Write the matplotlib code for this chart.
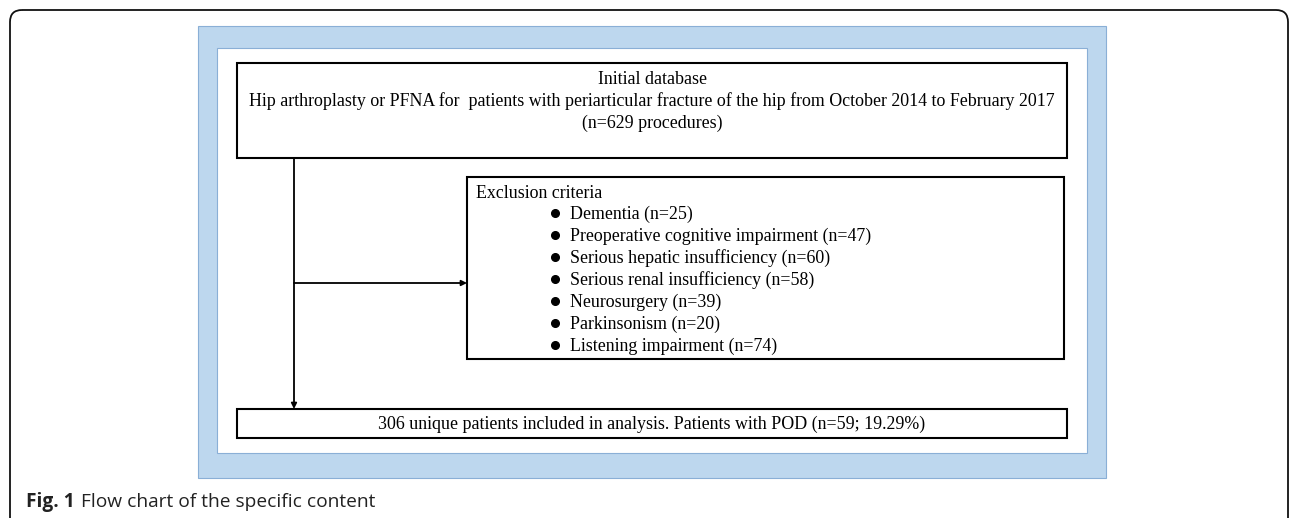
import matplotlib.pyplot as plt
from matplotlib.patches import Rectangle, FancyBboxPatch

# contenuto del diagramma
initial_title = "Initial database"
initial_desc = "Hip arthroplasty or PFNA for  patients with periarticular fracture of the hip from October 2014 to February 2017"
n_procedures = 629
criteria = ["Dementia", "Preoperative cognitive impairment", "Serious hepatic insufficiency",
            "Serious renal insufficiency", "Neurosurgery", "Parkinsonism", "Listening impairment"]
counts = [25, 47, 60, 58, 39, 20, 74]
n_patients = 306
n_pod = 59
pct_pod = 19.29

W, H = 1290, 518
fig = plt.figure(figsize=(W / 100, H / 100), dpi=100)
ax = fig.add_axes([0, 0, 1, 1])
ax.set_xlim(0, W)
ax.set_ylim(H, 0)
ax.axis('off')

serif = 'Liberation Serif'
fs = 12.9
dy = 1.5  # piccolo spostamento verticale del testo

# cornice esterna arrotondata
ax.add_patch(FancyBboxPatch((10, 10), 1278, 560, boxstyle="round,pad=0,rounding_size=12",
                            fill=False, ec='#111111', lw=1.3))

# cornice azzurra
ax.add_patch(Rectangle((198, 26), 908, 452, fc='#bdd7ee', ec='#8aafd6', lw=0.8))
ax.add_patch(Rectangle((217, 48), 870, 405, fc='white', ec='#8aafd6', lw=0.8))

# box iniziale
ax.add_patch(Rectangle((237, 63), 830, 95, fill=False, ec='black', lw=1.5))
ax.text(652, 78 + dy, initial_title, ha='center', va='center', fontsize=fs, family=serif)
ax.text(652, 100 + dy, initial_desc, ha='center', va='center', fontsize=fs, family=serif)
ax.text(652, 122 + dy, "(n=%d procedures)" % n_procedures, ha='center', va='center', fontsize=fs, family=serif)

# box criteri di esclusione
ax.add_patch(Rectangle((467, 177), 597, 182, fill=False, ec='black', lw=1.5))
ax.text(476, 192 + dy, "Exclusion criteria", ha='left', va='center', fontsize=fs, family=serif)
for i, (c, n) in enumerate(zip(criteria, counts)):
    y = 213 + i * 22
    ax.plot(555, y, 'o', color='black', ms=5.5)
    ax.text(570, y + dy, "%s (n=%d)" % (c, n), ha='left', va='center', fontsize=fs, family=serif)

# box finale
ax.add_patch(Rectangle((237, 409), 830, 29, fill=False, ec='black', lw=1.5))
ax.text(652, 423 + dy, "%d unique patients included in analysis. Patients with POD (n=%d; %.2f%%)"
        % (n_patients, n_pod, pct_pod), ha='center', va='center', fontsize=fs, family=serif)

# frecce
arr = dict(arrowstyle='-|>', color='black', lw=1.3, mutation_scale=8, shrinkA=0, shrinkB=0)
ax.annotate('', xy=(294, 409), xytext=(294, 158), arrowprops=arr)
ax.annotate('', xy=(467, 283), xytext=(294, 283), arrowprops=arr)

# didascalia
ax.text(26, 502, "Fig. 1", ha='left', va='center', fontsize=13.8, family='Open Sans',
        weight='bold', color='#222222')
ax.text(81, 502, "Flow chart of the specific content", ha='left', va='center', fontsize=13.8,
        family='Open Sans', color='#222222')

fig.savefig('out.png', dpi=100)
